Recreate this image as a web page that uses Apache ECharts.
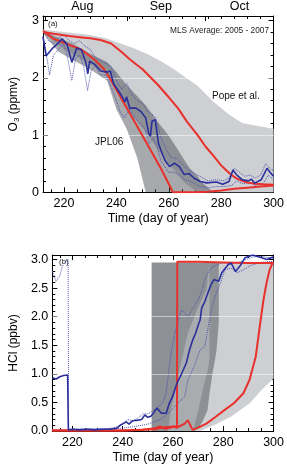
<!DOCTYPE html>
<html>
<head>
<meta charset="utf-8">
<script src="https://cdn.jsdelivr.net/npm/echarts@6/dist/echarts.min.js"></script>
<style>
  html, body { margin: 0; padding: 0; background: #fff; }
  #chart { width: 287px; height: 466px; }
</style>
</head>
<body>
<div id="chart"></div>
<script>
// ---- axis ticks / labels ----
const dayLabels = [220, 240, 260, 280, 300]
const dayMinor = [215, 220, 225, 230, 235, 240, 245, 250, 255, 260, 265, 270, 275, 280, 285, 290, 295]
const monthTicks = [213, 244, 274]
const monthLabelDays = [227, 257, 287]
const monthNames = ['Aug', 'Sep', 'Oct']
const o3Labels = [0, 1, 2, 3]
const o3Minor = [0.2, 0.4, 0.6, 0.8, 1.2, 1.4, 1.6, 1.8, 2.2, 2.4, 2.6, 2.8]
const hclLabels = [0, 0.5, 1, 1.5, 2, 2.5, 3]
const hclMinor = [0.1, 0.2, 0.3, 0.4, 0.6, 0.7, 0.8, 0.9, 1.1, 1.2, 1.3, 1.4, 1.6, 1.7, 1.8, 1.9, 2.1, 2.2, 2.3, 2.4, 2.6, 2.7, 2.8, 2.9, 3.0]

// ---- panel (a): O3 ----
const o3PopeBandDays = [212, 220, 230, 236, 241, 246, 252, 257, 262, 266, 271, 277, 283, 288, 294, 300]
const o3PopeBandHi = [2.84, 2.8, 2.75, 2.69, 2.61, 2.53, 2.41, 2.29, 2.15, 2.02, 1.86, 1.58, 1.36, 1.21, 1.16, 1.11]
const o3PopeBandLo = [2.8, 2.5, 2.24, 2.07, 1.72, 1.36, 1.0, 0.68, 0.39, 0.17, 0, 0, 0, 0, 0, 0]

const o3JplBandDays = [212, 218, 224, 230, 236.5, 240, 244, 248, 251.2, 256, 259.8, 263, 266, 268, 271, 272.5, 274.5, 277]
const o3JplBandHi = [2.82, 2.7, 2.58, 2.42, 2.27, 2.1, 1.87, 1.68, 1.52, 1.22, 1.0, 0.78, 0.56, 0.42, 0.28, 0.18, 0.1, 0]
const o3JplBandLo = [2.78, 2.45, 2.3, 2.15, 1.95, 1.45, 1.1, 0.6, 0, 0, 0, 0, 0, 0, 0, 0, 0, 0]

const o3PopeDays = [212, 216, 222, 226, 230, 234, 238, 242, 245, 248, 250, 253, 256, 260, 263.5, 267, 271, 274, 277, 280, 282, 284, 286, 288, 290, 293, 296, 300]
const o3Pope = [2.8, 2.77, 2.73, 2.71, 2.69, 2.66, 2.6, 2.45, 2.33, 2.22, 2.15, 2.01, 1.87, 1.66, 1.47, 1.23, 1.0, 0.8, 0.64, 0.47, 0.38, 0.3, 0.24, 0.2, 0.17, 0.15, 0.14, 0.13]

const o3JplDays = [212, 215.7, 221.8, 226.7, 231.6, 235.3, 237.7, 242.6, 247.5, 252.4, 257.3, 261.6, 266, 270, 275, 280, 285, 290, 295, 300]
const o3Jpl = [2.82, 2.69, 2.58, 2.49, 2.32, 2.15, 1.98, 1.58, 1.19, 0.79, 0.39, 0, 0, 0, 0.01, 0.03, 0.06, 0.08, 0.1, 0.12]

const o3MlsDays = [212, 213.2, 215.7, 218.1, 219.3, 221.2, 223, 224.9, 226.7, 228.5, 229.1, 229.8, 231.6, 234, 236.5, 237.7, 238.9, 241.4, 243.3, 243.9, 245.1, 247.5, 249.4, 251.2, 252.4, 253, 253.6, 254.8, 256.1, 257.3, 258.5, 260.3, 262.2, 264, 265.9, 267.7, 269.6, 272, 274.5, 278.2, 280.6, 283, 284.5, 286, 288, 290.4, 291.6, 292.8, 295.3, 297.5, 299, 300]
const o3Mls = [2.72, 2.38, 2.52, 2.62, 2.68, 2.58, 2.27, 2.52, 2.49, 2.24, 2.07, 2.29, 2.24, 2.12, 2.1, 2.12, 1.9, 1.73, 1.58, 1.67, 1.47, 1.47, 1.41, 1.3, 1.02, 0.98, 1.24, 1.27, 0.85, 0.7, 0.56, 0.45, 0.51, 0.45, 0.31, 0.33, 0.25, 0.19, 0.165, 0.18, 0.14, 0.19, 0.39, 0.3, 0.22, 0.2, 0.23, 0.16, 0.22, 0.42, 0.33, 0.28]

const o3MinDays = [212, 213, 214.5, 216, 218, 219.5, 221, 223, 224.5, 226, 227.5, 229, 230.5, 232, 234, 236, 238, 240, 241.5, 243, 245, 247, 249, 251, 252.5, 254, 255.5, 257, 258.5, 260, 262, 264, 266, 268, 270, 272, 275, 278, 281, 284, 286, 288, 291, 293, 296, 298, 300]
const o3Min = [2.7, 2.5, 2.05, 2.4, 2.5, 2.6, 2.45, 1.95, 2.35, 2.4, 2.2, 1.78, 2.15, 2.2, 2.05, 2.05, 1.85, 1.6, 1.4, 1.3, 1.45, 1.3, 1.2, 1.1, 0.85, 0.95, 0.8, 0.55, 0.45, 0.35, 0.35, 0.3, 0.22, 0.2, 0.15, 0.1, 0.08, 0.1, 0.1, 0.12, 0.2, 0.15, 0.17, 0.12, 0.15, 0.3, 0.22]

const o3MaxDays = [212, 214, 216, 218, 220, 222, 224, 226, 228, 230, 232, 234, 236, 238, 240, 242, 244, 246, 248, 250, 252, 254, 255, 257, 259, 261, 263, 265, 267, 269, 271, 273, 275, 278, 281, 283, 285, 287, 289, 291, 293, 295, 297, 299, 300]
const o3Max = [2.85, 2.65, 2.6, 2.7, 2.75, 2.65, 2.6, 2.65, 2.55, 2.5, 2.35, 2.3, 2.25, 2.2, 1.95, 1.8, 1.9, 1.7, 1.6, 1.55, 1.4, 1.35, 1.3, 0.95, 0.75, 0.6, 0.6, 0.5, 0.4, 0.35, 0.3, 0.25, 0.2, 0.22, 0.2, 0.25, 0.42, 0.35, 0.28, 0.3, 0.25, 0.3, 0.5, 0.4, 0.38]

// ---- panel (b): HCl ----
const hclPopeBandHiDays = [258, 259.2, 261, 263.5, 265.9, 269.6, 273.3, 275, 300]
const hclPopeBandHi = [0, 0.37, 0.72, 1.25, 1.71, 2.12, 2.47, 2.95, 2.95]
const hclPopeBandLoDays = [258, 270.8, 277, 283, 290.4, 295.3, 300]
const hclPopeBandLo = [0, 0, 0.12, 0.25, 0.48, 0.72, 0.92]

const hclJplBandHiDays = [251.5, 278.2]
const hclJplBandHi = [2.95, 2.95]
const hclJplBandLoDays = [251.5, 268.2, 270, 271.9, 273.7, 274.5, 275.5, 277.3, 278.2, 278.2]
const hclJplBandLo = [0, 0, 0.04, 0.18, 0.36, 0.65, 0.95, 1.4, 1.9, 2.95]

// lighter inset inside the dark band
const hclInsetHiDays = [258, 259.2, 261, 263.5, 265.9, 269.6, 273.3, 274.5]
const hclInsetHi = [0, 0.37, 0.72, 1.25, 1.71, 2.12, 2.47, 2.95]
const hclInsetLoDays = [258, 268, 270, 272, 274, 274.5, 274.5]
const hclInsetLo = [0, 0, 0.35, 0.75, 1.1, 1.25, 2.95]

const hclPopeDays = [212, 240, 252.6, 256, 259.8, 262, 264.7, 265.9, 267.8, 269.6, 273.3, 277, 280.6, 284.3, 288, 290.4, 292.9, 294.7, 296, 297.2, 298.4, 299.6, 300]
const hclPope = [0.01, 0.01, 0.03, 0.06, 0.08, 0.07, 0.13, 0.19, 0.02, 0.05, 0.13, 0.25, 0.37, 0.49, 0.66, 0.89, 1.3, 1.89, 2.3, 2.59, 2.82, 2.94, 2.95]

const hclJplDays = [212, 240, 248, 252.8, 254.8, 257, 260.8, 261.6, 261.7, 270, 280, 290, 300]
const hclJpl = [0.01, 0.01, 0.02, 0.05, 0.08, 0.04, 0.08, 0.05, 2.96, 2.96, 2.95, 2.94, 2.94]

const hclMlsDays = [212, 213.5, 215, 216.5, 218.1, 218.4, 220, 223, 226, 229, 232, 235, 237.7, 239, 241.4, 242.5, 244, 246.3, 247.5, 248.8, 250, 251.2, 252.5, 253.6, 255.4, 257.3, 258.5, 259.8, 261.6, 263.5, 265.3, 266.6, 267.9, 269, 270.3, 270.8, 271.4, 272.7, 273.9, 275.1, 276.3, 278.2, 279.4, 281.9, 283.1, 284.9, 286.7, 288.6, 291.7, 295.3, 297.2, 300]
const hclMls = [0.93, 0.91, 0.95, 0.97, 0.98, 0.02, 0.03, 0.02, 0.03, 0.02, 0.03, 0.03, 0.05, 0.1, 0.16, 0.12, 0.18, 0.19, 0.2, 0.28, 0.24, 0.26, 0.33, 0.4, 0.31, 0.31, 0.48, 0.6, 0.84, 1.01, 1.19, 1.42, 1.6, 1.71, 1.89, 1.94, 2.15, 2.27, 2.42, 2.56, 2.65, 2.62, 2.77, 2.91, 2.94, 2.79, 2.89, 3.03, 3.08, 3.03, 3.0, 3.05]

const hclMaxDays = [212, 213.5, 215, 216, 217, 218.3, 218.5, 224, 230, 236, 238, 240, 242, 244, 246, 248, 250, 252, 254, 256, 257.3, 258.5, 259.5, 261, 262.5, 263.5, 265, 266, 268, 270, 271.5, 273, 275, 277, 280, 283, 286, 289, 292, 296, 300]
const hclMax = [2.8, 2.62, 2.72, 2.88, 2.96, 3.0, 0.03, 0.04, 0.04, 0.05, 0.08, 0.12, 0.2, 0.18, 0.22, 0.3, 0.3, 0.35, 0.42, 0.5, 0.66, 1.1, 1.45, 1.75, 2.0, 2.12, 2.05, 2.0, 2.15, 2.3, 2.45, 2.7, 2.85, 2.9, 2.95, 2.92, 2.95, 3.0, 3.05, 3.05, 3.02]

const hclMinDays = [212, 218.3, 218.4, 230, 240, 245, 250, 255, 258, 261.7, 264.7, 265.9, 268.4, 270.8, 272.7, 274.5, 275.7, 277, 278.8, 280.6, 283, 285.5, 288, 291, 295, 300]
const hclMin = [0.02, 0.02, 0.02, 0.02, 0.05, 0.08, 0.12, 0.2, 0.3, 0.48, 0.6, 0.89, 1.13, 1.42, 1.48, 1.95, 2.2, 2.39, 2.58, 2.82, 2.85, 2.77, 2.82, 2.9, 2.95, 2.97]

const RED = '#e8302c'
const BLUE = '#2a2f9c'
const BLUE_DOT = '#4c52b0'
const FONT = 'Liberation Sans'
const XN = 4 // x axes per grid
const YN = 4 // y axes per grid

const chartDom = document.getElementById('chart')
const chart = echarts.init(chartDom, null, { renderer: 'canvas' })

function zip(days, vals) {
    return days.map((d, i) => [d, vals[i]])
}

// shaded region between an upper and a lower edge, drawn through the axis scales
function band(gi, hiDays, hi, loDays, lo, color, z) {
    return {
        type: 'custom', xAxisIndex: gi * XN, yAxisIndex: gi * YN, z: z, silent: true,
        data: [[hiDays[0], hi[0]]],
        renderItem(params, api) {
            const pts = []
            hiDays.forEach((d, i) => pts.push(api.coord([d, hi[i]])))
            for (let i = loDays.length - 1; i >= 0; i--) pts.push(api.coord([loDays[i], lo[i]]))
            return { type: 'polygon', shape: { points: pts }, style: { fill: color } }
        }
    }
}

function line(gi, days, vals, color, width, type, z) {
    return {
        type: 'line', xAxisIndex: gi * XN, yAxisIndex: gi * YN, z: z, silent: true,
        data: zip(days, vals), showSymbol: false, symbol: 'none',
        lineStyle: { color: color, width: width, type: type }
    }
}

function gridLines(gi, vals) {
    return {
        type: 'line', xAxisIndex: gi * XN, yAxisIndex: gi * YN, z: 3, data: [],
        markLine: {
            silent: true, symbol: 'none', label: { show: false },
            lineStyle: { color: '#ffffff', width: 1, type: 'solid', opacity: 0.5 },
            data: vals.map(v => ({ yAxis: v }))
        }
    }
}

const labelStyle = { color: '#000', fontFamily: FONT, fontSize: 12.5 }

function tickAxis(base, pos, vals, len) {
    return Object.assign({}, base, {
        position: pos,
        axisLine: { show: false, onZero: false },
        axisTick: { show: true, inside: true, length: len, customValues: vals, lineStyle: { color: '#000' } },
        axisLabel: { show: false }
    })
}

function xAxes(gi, withMonths) {
    const base = { type: 'value', gridIndex: gi, min: 212, max: 300, splitLine: { show: false } }
    const main = Object.assign({}, base, {
        position: 'bottom',
        name: 'Time (day of year)', nameLocation: 'middle', nameGap: 20,
        nameTextStyle: { color: '#000', fontFamily: FONT, fontSize: 12.5 },
        axisLine: { show: true, onZero: false, lineStyle: { color: '#000', width: 1 } },
        axisTick: { show: true, inside: true, length: 5, customValues: dayLabels, lineStyle: { color: '#000' } },
        axisLabel: Object.assign({ customValues: dayLabels, margin: 5 }, labelStyle)
    })
    const top = Object.assign({}, base, {
        position: 'top',
        axisLine: { show: true, onZero: false, lineStyle: { color: '#000', width: 1 } },
        axisTick: { show: true, inside: true, length: 5, customValues: withMonths ? monthTicks : dayLabels, lineStyle: { color: '#000' } },
        axisLabel: withMonths
            ? Object.assign({ customValues: monthLabelDays, margin: 3, formatter: v => monthNames[monthLabelDays.indexOf(v)] }, labelStyle)
            : { show: false }
    })
    return [main, tickAxis(base, 'bottom', dayMinor, 3), top, tickAxis(base, 'top', dayMinor, 3)]
}

function yAxes(gi, name, labels, minorVals, fmt, gap) {
    const base = { type: 'value', gridIndex: gi, min: 0, max: 3.08, splitLine: { show: false } }
    return [
        Object.assign({}, base, {
            position: 'left',
            name: name, nameLocation: 'middle', nameGap: gap,
            nameTextStyle: {
                color: '#000', fontFamily: FONT, fontSize: 12,
                rich: { sub: { fontSize: 8, verticalAlign: 'bottom', padding: [6, 0, 0, 0], fontFamily: FONT } }
            },
            axisLine: { show: true, onZero: false, lineStyle: { color: '#000', width: 1 } },
            axisTick: { show: true, inside: true, length: 5, customValues: labels, lineStyle: { color: '#000' } },
            axisLabel: Object.assign({ customValues: labels, margin: 4, formatter: fmt }, labelStyle)
        }),
        tickAxis(base, 'left', minorVals, 3),
        Object.assign({}, base, {
            position: 'right',
            axisLine: { show: true, onZero: false, lineStyle: { color: '#000', width: 1 } },
            axisTick: { show: true, inside: true, length: 5, customValues: labels, lineStyle: { color: '#000' } },
            axisLabel: { show: false }
        }),
        tickAxis(base, 'right', minorVals, 3)
    ]
}

const option = {
    backgroundColor: '#fff',
    animation: false,
    grid: [
        { left: 40, top: 16, width: 239.5, height: 176.3 },
        { left: 40, top: 255, width: 239.5, height: 176 }
    ],
    xAxis: [].concat(xAxes(0, true), xAxes(1, false)),
    yAxis: [].concat(
        yAxes(0, 'O{sub|3} (ppmv)', o3Labels, o3Minor, v => String(v), 22),
        yAxes(1, 'HCl (ppbv)', hclLabels, hclMinor, v => v.toFixed(1), 29)
    ),
    graphic: [
        { type: 'text', left: 48, top: 20, style: { text: '(a)', font: '8px "Liberation Sans"', fill: '#222' } },
        { type: 'text', right: 18, top: 27, style: { text: 'MLS Average: 2005 - 2007', font: '8.3px "Liberation Sans"', fill: '#222' } },
        { type: 'text', left: 212, top: 91, style: { text: 'Pope et al.', font: '10px "Liberation Sans"', fill: '#111' } },
        { type: 'text', left: 95, top: 137, style: { text: 'JPL06', font: '10px "Liberation Sans"', fill: '#111' } },
        { type: 'text', left: 59, top: 258, style: { text: '(b)', font: '8px "Liberation Sans"', fill: '#222' } }
    ],
    series: [
        band(0, o3PopeBandDays, o3PopeBandHi, o3PopeBandDays, o3PopeBandLo, '#cdcfd2', 1),
        band(0, o3JplBandDays, o3JplBandHi, o3JplBandDays, o3JplBandLo, 'rgba(62,65,70,0.45)', 2),
        gridLines(0, [1, 2]),
        line(0, o3MinDays, o3Min, BLUE_DOT, 1, 'dotted', 4),
        line(0, o3MaxDays, o3Max, BLUE_DOT, 1, 'dotted', 4),
        line(0, o3PopeDays, o3Pope, RED, 2, 'solid', 5),
        line(0, o3JplDays, o3Jpl, RED, 2, 'solid', 5),
        line(0, o3MlsDays, o3Mls, BLUE, 1.6, 'solid', 6),

        band(1, hclPopeBandHiDays, hclPopeBandHi, hclPopeBandLoDays, hclPopeBandLo, '#cdcfd2', 1),
        band(1, hclJplBandHiDays, hclJplBandHi, hclJplBandLoDays, hclJplBandLo, '#8d9094', 2),
        band(1, hclInsetHiDays, hclInsetHi, hclInsetLoDays, hclInsetLo, '#a9acaf', 2),
        gridLines(1, [1, 2]),
        line(1, hclMinDays, hclMin, BLUE_DOT, 1, 'dotted', 4),
        line(1, hclMaxDays, hclMax, BLUE_DOT, 1, 'dotted', 4),
        line(1, hclPopeDays, hclPope, RED, 2, 'solid', 5),
        line(1, hclJplDays, hclJpl, RED, 2, 'solid', 5),
        line(1, hclMlsDays, hclMls, BLUE, 1.6, 'solid', 6)
    ]
}

chart.setOption(option)
</script>
</body>
</html>
